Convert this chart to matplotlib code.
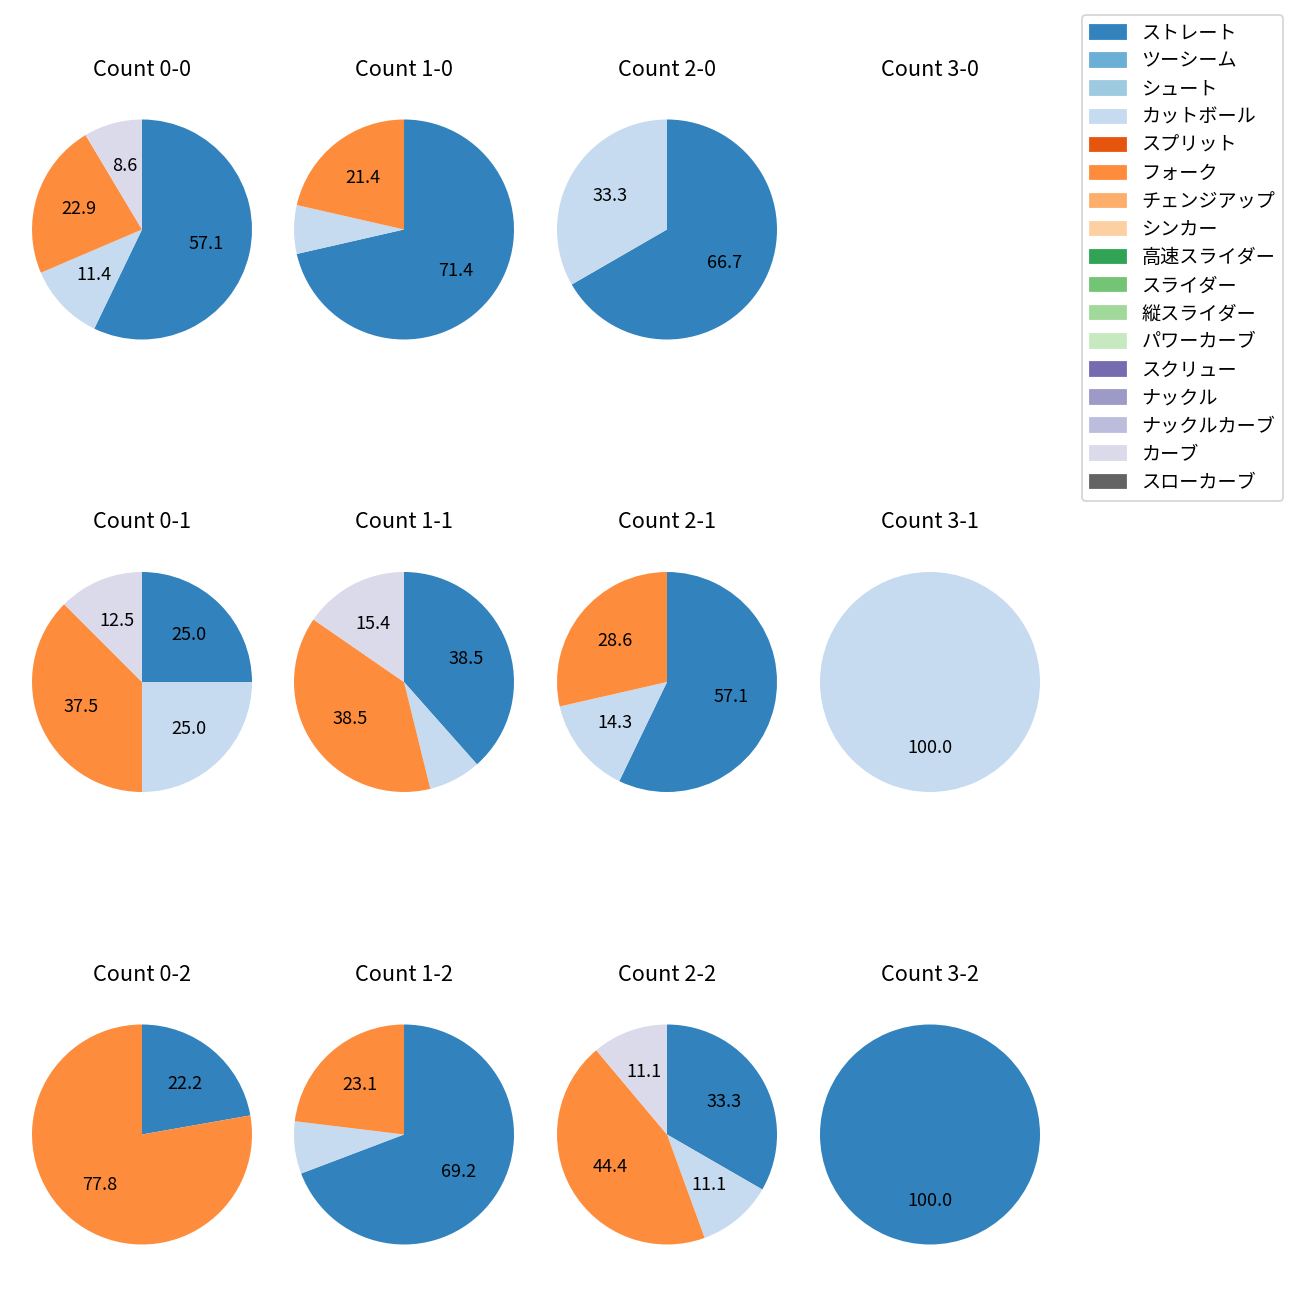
import numpy as np
import matplotlib
matplotlib.use("Agg")
import matplotlib.pyplot as plt
from matplotlib.patches import Patch

plt.rcParams['font.family'] = ['Noto Sans CJK JP', 'DejaVu Sans']

pitch_types = ["ストレート", "ツーシーム", "シュート", "カットボール", "スプリット", "フォーク",
               "チェンジアップ", "シンカー", "高速スライダー", "スライダー", "縦スライダー",
               "パワーカーブ", "スクリュー", "ナックル", "ナックルカーブ", "カーブ", "スローカーブ"]
cmap = plt.get_cmap("tab20c")
colors = [cmap(i) for i in range(16)] + [cmap(16)]

# pitch counts per ball-strike count (order follows pitch_types)
count_labels = ["0-0", "1-0", "2-0", "3-0",
                "0-1", "1-1", "2-1", "3-1",
                "0-2", "1-2", "2-2", "3-2"]
straight = [20, 10, 2, 0, 2, 5, 4, 0, 2, 9, 3, 1]
cutter   = [4, 1, 1, 0, 2, 1, 1, 1, 0, 1, 1, 0]
fork     = [8, 3, 0, 0, 3, 5, 2, 0, 7, 3, 4, 0]
curve    = [3, 0, 0, 0, 1, 2, 0, 0, 0, 0, 1, 0]

col_x = [142, 404, 667, 930]
row_y = [229.5, 682, 1134.5]
R = 110.0
W = H = 1300.0

fig = plt.figure(figsize=(10, 10), dpi=130)

for i, lab in enumerate(count_labels):
    r, c = divmod(i, 4)
    cx, cy = col_x[c], row_y[r]
    half = R * 1.25
    ax = fig.add_axes([(cx - half) / W, 1 - (cy + half) / H, 2 * half / W, 2 * half / H])
    vals = np.zeros(len(pitch_types))
    vals[0] = straight[i]
    vals[3] = cutter[i]
    vals[5] = fork[i]
    vals[15] = curve[i]
    ax.set_title("Count " + lab, pad=9)
    if vals.sum() == 0:
        ax.axis("off")
        continue
    mask = vals > 0
    ax.pie(vals[mask], colors=[colors[k] for k in range(len(vals)) if mask[k]],
           startangle=90, counterclock=False,
           autopct=lambda p: f"{p:.1f}" if p >= 8 else "")

handles = [Patch(color=colors[k], label=pitch_types[k]) for k in range(len(pitch_types))]
fig.legend(handles=handles, loc="upper right", bbox_to_anchor=(1283 / W, 1 - 15 / H),
           borderaxespad=0, fontsize=10.6, labelspacing=0.37, handlelength=1.9)

fig.savefig("out.png", dpi=130)
